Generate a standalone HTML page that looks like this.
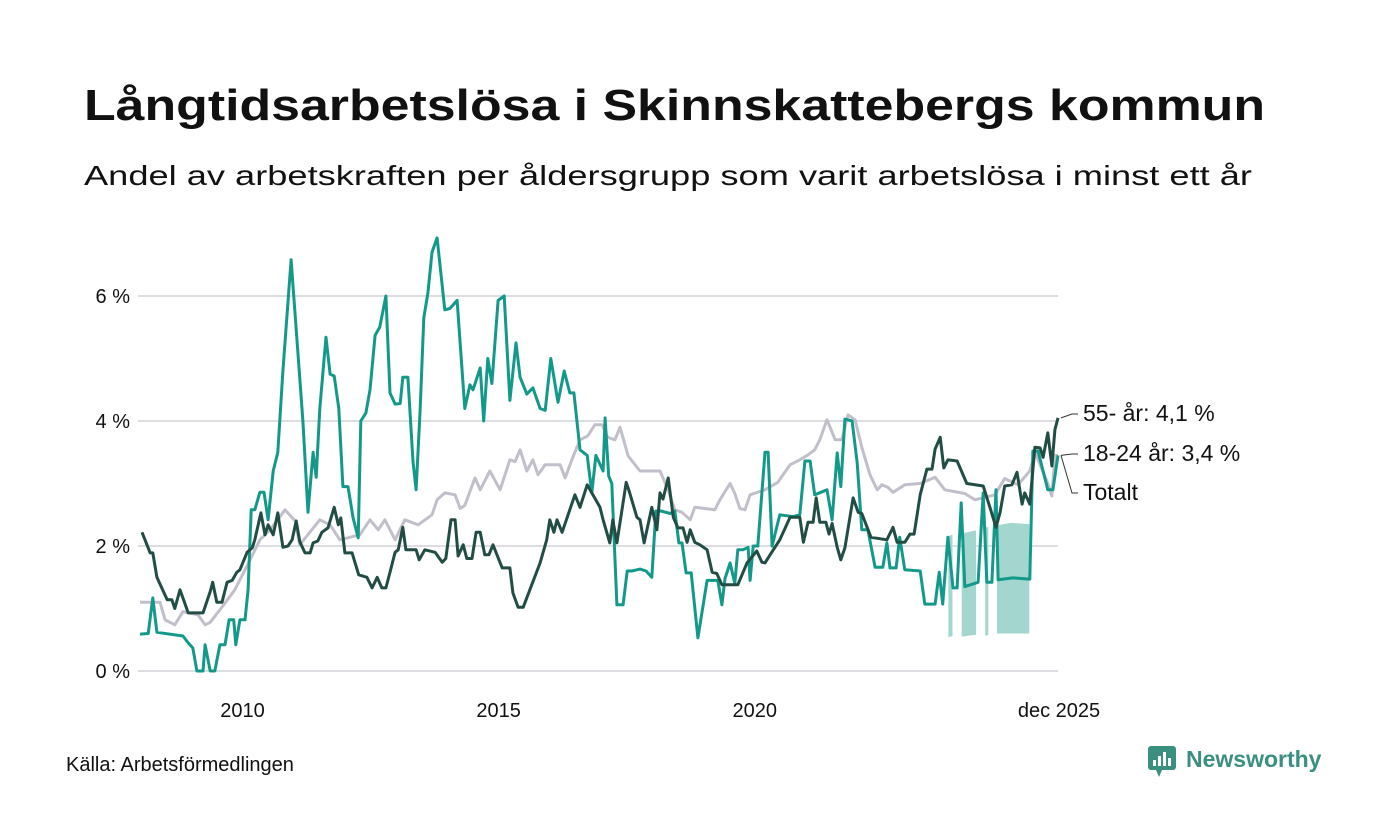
<!DOCTYPE html>
<html><head><meta charset="utf-8"><style>
html,body{margin:0;padding:0;background:#fff;}
svg{display:block;font-family:"Liberation Sans",sans-serif;}
</style></head><body>
<svg id="chart" width="1400" height="840" viewBox="0 0 1400 840">
<text x="84" y="120" font-size="44" font-weight="bold" fill="#111" textLength="1181" lengthAdjust="spacingAndGlyphs">Långtidsarbetslösa i Skinnskattebergs kommun</text>
<text x="84" y="185" font-size="28" fill="#111" textLength="1168" lengthAdjust="spacingAndGlyphs">Andel av arbetskraften per åldersgrupp som varit arbetslösa i minst ett år</text>
<g id="grid"></g><g id="band"></g><g id="lines"></g><g id="labels"></g>
<text x="66" y="771" font-size="20" fill="#111">Källa: Arbetsförmedlingen</text>
<g>
<rect x="1148" y="746" width="28" height="24" rx="3" fill="#3a8f80"/>
<polygon points="1156,770 1162,770 1159,777" fill="#3a8f80"/>
<rect x="1153" y="760" width="3" height="6" fill="#fff"/><rect x="1158" y="756" width="3" height="10" fill="#fff"/><rect x="1163" y="752" width="3" height="14" fill="#fff"/><rect x="1168" y="758" width="3" height="8" fill="#fff"/>
<text x="1186" y="767" font-size="23" font-weight="bold" fill="#3a8f80">Newsworthy</text>
</g>
</svg>
<script>
const yTicks=[0,2,4,6];
const yTickLabels=["0 %","2 %","4 %","6 %"];
const xTicks=[2010,2015,2020,2025.92];
const xTickLabels=["2010","2015","2020","dec 2025"];
const seriesNames=["Totalt","18-24 år","55- år"];
// dates as years since 2008.0
const totDates=[0,.39,.49,.68,.84,1.13,1.27,1.37,1.56,1.85,2.15,2.34,2.54,2.83,3.03,3.12,3.51,3.71,3.90,4.29,4.49,4.65,4.78,4.98,5.17,5.43,5.70,5.80,5.95,6.15,6.25,6.34,6.54,6.64,6.83,7.03,7.22,7.32,7.42,7.55,7.67,7.77,7.91,8.20,8.30,8.43,8.59,8.74,8.88,9.02,9.13,9.27,9.37,9.53,9.76,10.15,10.31,10.44,10.58,10.74,10.83,11.22,11.32,11.52,11.61,11.71,11.81,11.91,12.20,12.45,12.69,12.88,13.04,13.17,13.27,13.41,13.57,13.70,13.82,13.96,14.09,14.25,14.39,14.48,14.60,14.70,14.93,15.23,15.52,15.71,16.10,16.30,16.69,16.88,17.14,17.37,17.47,17.72,17.80,17.86,17.92];
const totVals=[1.1,1.1,.82,.74,.95,.9,.74,.78,.98,1.3,1.78,2.1,2.26,2.58,2.4,2.02,2.42,2.34,2.1,2.18,2.42,2.26,2.42,2.1,2.42,2.34,2.5,2.74,2.85,2.82,2.6,2.65,3.09,2.9,3.2,2.9,3.38,3.35,3.54,3.2,3.38,3.14,3.3,3.3,3.09,3.38,3.7,3.76,3.94,3.94,3.74,3.7,3.9,3.44,3.2,3.2,2.9,2.58,2.54,2.42,2.62,2.58,2.74,3.0,2.84,2.6,2.58,2.82,2.9,3.02,3.3,3.38,3.46,3.54,3.7,4.02,3.7,3.7,4.1,4.02,3.58,3.14,2.9,2.98,2.94,2.86,2.98,3.0,3.1,2.9,2.84,2.74,2.82,3.08,2.98,3.2,3.5,3.0,2.8,3.45,3.45];
const youDates=[0,.16,.25,.33,.84,.94,1.03,1.11,1.23,1.27,1.37,1.46,1.56,1.66,1.74,1.83,1.87,1.95,2.05,2.11,2.17,2.24,2.34,2.42,2.50,2.60,2.69,2.79,2.95,3.18,3.28,3.38,3.44,3.51,3.63,3.71,3.79,3.88,3.96,4.06,4.16,4.26,4.31,4.41,4.49,4.59,4.68,4.80,4.88,4.98,5.08,5.13,5.23,5.33,5.39,5.47,5.54,5.62,5.70,5.80,5.95,6.05,6.19,6.34,6.44,6.50,6.64,6.71,6.79,6.87,6.99,7.11,7.22,7.34,7.42,7.55,7.67,7.81,7.91,8.02,8.16,8.28,8.39,8.47,8.59,8.73,8.82,8.90,9.04,9.08,9.15,9.21,9.31,9.43,9.51,9.60,9.76,9.88,9.99,10.07,10.17,10.35,10.44,10.52,10.58,10.66,10.76,10.89,11.07,11.28,11.36,11.42,11.52,11.61,11.67,11.77,11.87,11.91,11.97,12.06,12.20,12.26,12.34,12.49,12.75,12.88,12.98,13.08,13.17,13.41,13.51,13.61,13.68,13.76,13.90,14.00,14.09,14.21,14.35,14.50,14.58,14.64,14.76,14.83,14.93,15.23,15.32,15.52,15.60,15.67,15.77,15.87,15.95,16.03,16.10,16.36,16.46,16.53,16.63,16.71,16.75,17.04,17.37,17.43,17.53,17.72,17.82,17.92];
const youVals=[.59,.6,1.17,.62,.56,.45,.37,0,0,.42,0,0,.42,.42,.82,.82,.42,.82,.82,1.3,2.58,2.58,2.86,2.86,2.42,3.2,3.5,4.8,6.58,4.0,2.54,3.5,3.1,4.2,5.34,4.75,4.72,4.2,2.95,2.95,2.45,2.13,4.0,4.13,4.5,5.37,5.5,6.0,4.45,4.27,4.28,4.7,4.7,3.35,2.9,4.2,5.65,6.05,6.7,6.93,5.78,5.8,5.93,4.2,4.58,4.5,4.85,4.0,5.0,4.6,5.93,6.0,4.33,5.25,4.7,4.43,4.53,4.2,4.17,5.0,4.3,4.8,4.45,4.45,3.54,3.45,2.85,3.45,3.2,4.05,3.12,3.0,1.06,1.06,1.6,1.6,1.63,1.6,1.5,2.56,2.56,2.52,2.56,2.05,2.05,1.57,1.57,.53,1.45,1.45,1.06,1.48,1.73,1.4,1.94,1.94,1.98,1.45,2.0,2.0,3.5,3.5,2.0,2.5,2.47,2.5,3.36,3.36,2.82,2.9,2.42,3.49,2.95,4.03,4.0,3.33,2.26,2.26,1.66,1.66,2.05,1.65,1.65,2.14,1.62,1.6,1.07,1.07,1.58,1.07,2.14,1.33,1.33,2.69,1.35,1.42,2.85,1.42,1.42,2.9,1.46,1.49,1.47,3.52,3.52,2.9,2.9,3.45];
const oldDates=[.04,.20,.25,.33,.53,.62,.68,.78,.94,1.23,1.37,1.42,1.50,1.60,1.70,1.80,1.89,1.95,2.09,2.19,2.24,2.36,2.44,2.50,2.60,2.69,2.79,2.89,2.97,3.05,3.12,3.22,3.32,3.38,3.47,3.55,3.67,3.79,3.87,3.92,4.00,4.14,4.27,4.43,4.53,4.63,4.72,4.80,4.88,4.98,5.04,5.13,5.19,5.39,5.45,5.56,5.76,5.90,5.97,6.07,6.15,6.21,6.31,6.38,6.48,6.56,6.64,6.73,6.81,6.89,7.07,7.22,7.28,7.38,7.48,7.81,7.94,8.00,8.08,8.14,8.24,8.49,8.59,8.73,8.98,9.04,9.17,9.23,9.31,9.49,9.56,9.70,9.76,9.84,9.99,10.09,10.15,10.21,10.31,10.41,10.50,10.60,10.68,10.74,10.83,10.93,11.07,11.17,11.26,11.36,11.67,11.85,12.04,12.14,12.20,12.30,12.49,12.69,12.88,12.95,13.04,13.14,13.20,13.27,13.39,13.45,13.51,13.61,13.68,13.76,13.92,14.02,14.09,14.27,14.58,14.70,14.78,14.93,15.03,15.11,15.23,15.36,15.46,15.52,15.62,15.69,15.77,15.95,16.14,16.46,16.59,16.71,16.79,16.88,17.02,17.12,17.22,17.27,17.37,17.47,17.57,17.63,17.72,17.80,17.86,17.92];
const oldVals=[2.22,1.89,1.89,1.5,1.14,1.14,1.0,1.3,.93,.93,1.27,1.42,1.1,1.1,1.42,1.45,1.58,1.62,1.9,1.97,2.1,2.53,2.18,2.34,2.18,2.53,1.98,2.0,2.1,2.4,2.07,1.89,1.89,2.05,2.08,2.22,2.29,2.62,2.34,2.45,1.89,1.89,1.54,1.5,1.33,1.5,1.33,1.33,1.58,1.9,1.94,2.3,1.94,1.94,1.78,1.94,1.9,1.74,1.8,2.42,2.42,1.84,2.02,1.8,1.8,2.22,2.22,1.86,1.86,2.02,1.65,1.65,1.25,1.02,1.02,1.73,2.1,2.42,2.22,2.42,2.22,2.82,2.62,2.98,2.62,2.42,2.05,2.42,2.05,3.02,2.85,2.46,2.42,2.05,2.62,2.26,2.85,2.75,3.09,2.46,2.29,2.29,2.06,2.26,2.06,2.02,1.94,1.58,1.56,1.38,1.38,1.73,1.92,1.74,1.73,1.86,2.1,2.46,2.46,2.06,2.38,2.38,2.77,2.38,2.38,2.19,2.36,1.98,1.78,1.97,2.77,2.54,2.52,2.14,2.1,2.3,2.06,2.06,2.19,2.19,2.82,3.23,3.23,3.55,3.74,3.25,3.38,3.36,3.0,2.96,2.62,2.3,2.54,2.96,2.98,3.18,2.67,2.85,2.67,3.58,3.57,3.42,3.81,3.28,3.86,4.05];
const bandDates=[15.78,15.86,16.04,16.32,16.50,16.56,16.73,17.0,17.36];
const bandLo=[.54,.56,.55,.58,.56,.58,.6,.6,.6];
const bandHi=[2.16,2.18,2.2,2.25,2.3,2.3,2.33,2.37,2.35];
const bandSeg=[0,0,1,1,2,2,3,3,3];

const NS="http://www.w3.org/2000/svg";
const X0=140,X1=1058,T1=17.92,Y0=671,PX=62.5;
function xs(t){return X0+(t)/T1*(X1-X0);}
function xy(yr){return xs(yr-2008);}
function ys(v){return Y0-v*PX;}
function mk(tag,attrs,parent){const e=document.createElementNS(NS,tag);for(const k in attrs)e.setAttribute(k,attrs[k]);parent.appendChild(e);return e;}
const grid=document.getElementById('grid');
yTicks.forEach((v,i)=>{
  const l=mk('line',{x1:138,x2:1058,y1:ys(v),y2:ys(v),stroke:'#dedde2','stroke-width':2},grid);
  
  
  const t=mk('text',{x:130,y:ys(v)+7,'font-size':20,fill:'#111','text-anchor':'end'},grid);
  t.textContent=yTickLabels[i];
  
  
});
xTicks.forEach((v,i)=>{
  const t=mk('text',{x:xy(v)+(i==3?1:0),y:717,'font-size':20,fill:'#111','text-anchor':'middle'},grid);
  t.textContent=xTickLabels[i];
  
  
});
const band=document.getElementById('band');
[0,1,2,3].forEach(s=>{
  const idx=bandSeg.map((g,i)=>g===s?i:-1).filter(i=>i>=0);
  const top=idx.map(i=>xs(bandDates[i])+','+ys(bandHi[i]));
  const bot=idx.slice().reverse().map(i=>xs(bandDates[i])+','+ys(bandLo[i]));
  const p=mk('polygon',{points:top.concat(bot).join(' '),fill:'#a3d6cf'},band);
  
  
});
const lines=document.getElementById('lines');
function line(d,v,col,name){
  const pts=d.map((t,i)=>xs(t).toFixed(1)+','+ys(v[i]).toFixed(1)).join(' ');
  const p=mk('polyline',{points:pts,fill:'none',stroke:col,'stroke-width':3,'stroke-linejoin':'round'},lines);
  
  
}
line(totDates,totVals,'#c2bfcb','line-totalt');
line(youDates,youVals,'#13998a','line-18-24');
line(oldDates,oldVals,'#214d45','line-55');
const lab=document.getElementById('labels');
function label(v,ty,txt,name){
  const ex=xs(T1),ey=ys(v);
  mk('polyline',{points:`${ex+3},${ey} ${ex+14},${ty-7} ${ex+20},${ty-7}`,fill:'none',stroke:'#333','stroke-width':1},lab);
  const t=mk('text',{x:ex+25,y:ty,'font-size':23,fill:'#111'},lab);
  t.textContent=txt;
  
  
}
label(oldVals[oldVals.length-1],421,seriesNames[2]+': 4,1 %','label-55');
label(youVals[youVals.length-1],461,seriesNames[1]+': 3,4 %','label-18-24');
label(totVals[totVals.length-1],500,seriesNames[0],'label-totalt');
</script>
</body></html>
